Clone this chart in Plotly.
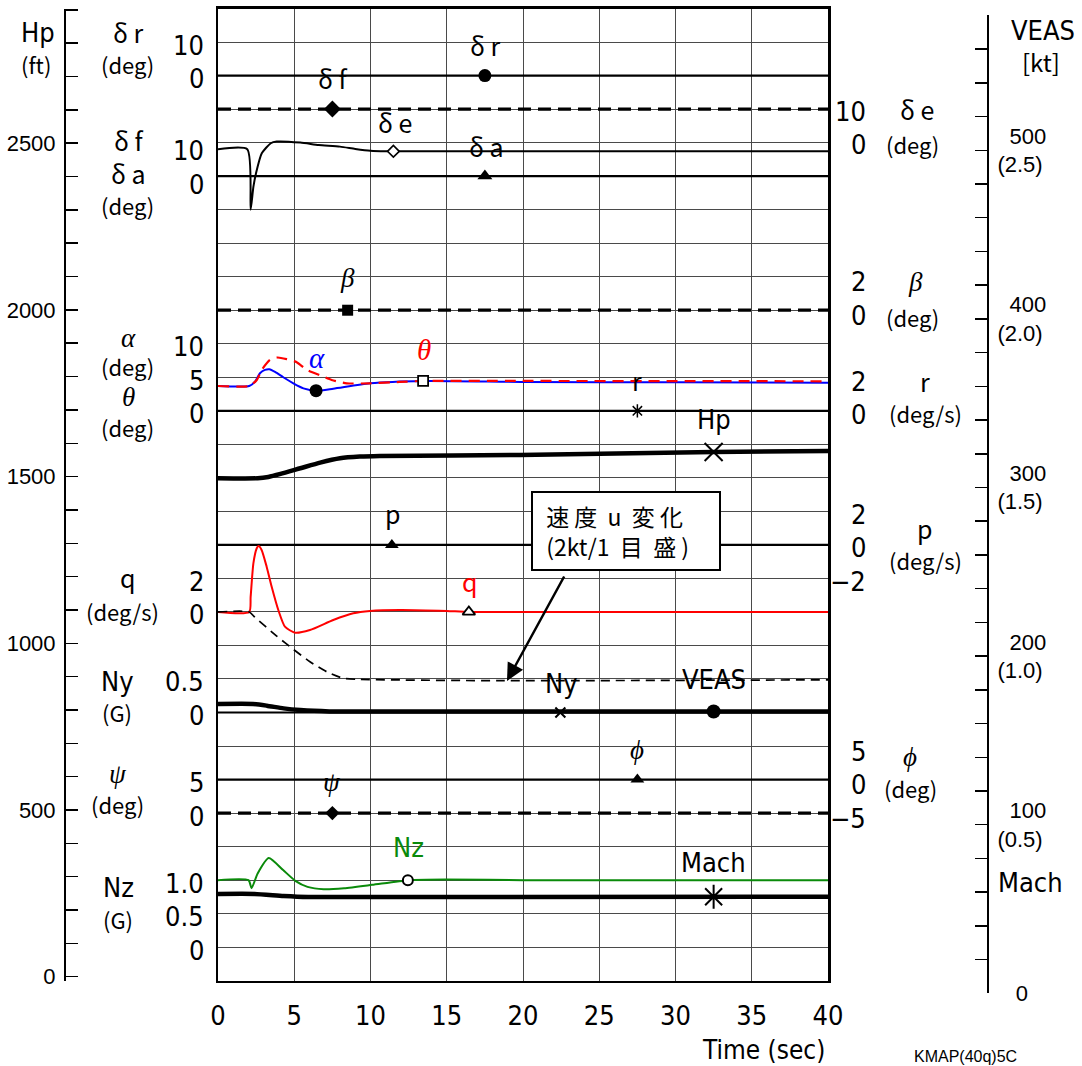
import numpy as np
import plotly.graph_objects as go

# ======================= DATA =======================
TIME_TICKS = [0, 5, 10, 15, 20, 25, 30, 35, 40]

# rudder / flap / aileron / elevator (deg)
DR_T, DR = [0, 40], [0, 0]
DF_T, DF = [0, 40], [20, 20]
DA_T, DA = [0, 40], [0, 0]
DE_T = [0, 1.92, 2.14, 2.32, 2.49, 2.87, 3.46, 3.85, 5.4, 6.6, 8.0, 9.0, 10.0, 11.0, 12.0, 20.0, 40.0]
DE = [-2.0, -2.0, -20.0, -13.2, -9.2, -3.2, -0.2, 0.3, 0.0, -0.7, -1.2, -1.9, -2.45, -2.6, -2.6, -2.55, -2.55]
# sideslip (deg)
BETA_T, BETA = [0, 40], [0, 0]
# angle of attack / pitch (deg)
ALPHA_T = [0, 2.05, 2.43, 2.75, 3.08, 3.37, 3.74, 4.28, 4.94, 5.6, 6.43, 7.56, 9.97, 13.46, 20, 30, 40]
ALPHA = [3.7, 3.7, 4.35, 5.6, 6.1, 6.2, 5.8, 5.0, 4.1, 3.35, 3.0, 3.3, 4.1, 4.45, 4.3, 4.25, 4.2]
THETA_T = [0, 2.05, 2.54, 2.87, 3.41, 3.9, 4.5, 5.16, 5.82, 6.8, 7.45, 8.44, 9.97, 11.93, 13.46, 20, 40]
THETA = [3.7, 3.7, 4.6, 6.1, 7.6, 7.95, 7.7, 7.25, 6.1, 5.2, 4.6, 4.1, 4.1, 4.3, 4.45, 4.45, 4.4]
# yaw rate (deg/s)
R_T, R = [0, 40], [0, 0]
# pressure altitude (ft)
HP_T = [0, 2.6, 3.3, 4.1, 5.4, 6.7, 8.0, 9.3, 10.6, 19.8, 32.5, 40]
HP = [1495, 1495, 1499, 1508, 1525, 1542, 1555, 1560, 1562, 1565, 1574, 1577]
# roll rate / pitch rate (deg/s)
P_T, P = [0, 40], [0, 0]
Q_T = [0, 2.05, 2.14, 2.32, 2.54, 2.65, 2.86, 3.19, 3.52, 3.96, 4.39, 5.05, 6.03, 7.56, 8.87, 9.97, 11.93, 15.0, 16.5, 40]
Q = [0, 0, 0.9, 2.9, 3.8, 3.93, 3.7, 2.7, 1.5, 0.1, -0.88, -1.24, -1.08, -0.48, -0.08, 0.06, 0.12, 0.06, 0.0, 0.0]
# speed change u (kt)
U_T = [0, 2.05, 2.42, 3.85, 4.94, 6.03, 7.13, 8.22, 9.1, 18.5, 40]
U = [0, 0, -0.32, -1.44, -2.23, -2.97, -3.57, -3.96, -4.02, -4.1, -4.05]
# lateral load factor (G)
NY_T, NY = [0, 40], [0, 0]
# equivalent airspeed (kt)
VEAS_T = [0, 2.3, 3.2, 4.3, 5.4, 7.3, 10, 40]
VEAS = [171.6, 171.6, 170.6, 169.0, 168.0, 167.2, 167.1, 167.1]
# bank / heading (deg)
PHI_T, PHI = [0, 40], [0, 0]
PSI_T, PSI = [0, 40], [0, 0]
# normal load factor (G)
NZ_T = [0, 2.0, 2.2, 2.6, 3.33, 4.27, 5.07, 5.87, 6.93, 8.27, 10.1, 12.5, 14.9, 20, 40]
NZ = [1.0, 1.0, 0.88, 1.1, 1.33, 1.15, 0.99, 0.90, 0.865, 0.88, 0.93, 1.0, 1.01, 1.0, 1.0]
# Mach
MACH_T = [0, 2.4, 4.3, 5.9, 40]
MACH = [0.2945, 0.2945, 0.2885, 0.2855, 0.2865]

# scale tick labels
DR_TICKS, DR_LBL = [0, 10], ["0", "10"]
DFA_TICKS, DFA_LBL = [0, 10], ["0", "10"]
ALTH_TICKS, ALTH_LBL = [0, 5, 10], ["0", "5", "10"]
Q_TICKS, Q_LBL = [0, 2], ["0", "2"]
NY_TICKS, NY_LBL = [0, 0.5], ["0", "0.5"]
PSI_TICKS, PSI_LBL = [0, 5], ["0", "5"]
NZ_TICKS, NZ_LBL = [0, 0.5, 1.0], ["0", "0.5", "1.0"]
DE_TICKS, DE_LBL = [0, 10], ["0", "10"]
BETA_TICKS, BETA_LBL = [0, 2], ["0", "2"]
R_TICKS, R_LBL = [0, 2], ["0", "2"]
P_TICKS, P_LBL = [-2, 0, 2], ["−2", "0", "2"]
PHI_TICKS, PHI_LBL = [-5, 0, 5], ["−5", "0", "5"]
VEAS_TICKS = [0, 100, 200, 300, 400, 500]
VEAS_LBL = ["0", "100", "200", "300", "400", "500"]
MACH_LBL = ["", "(0.5)", "(1.0)", "(1.5)", "(2.0)", "(2.5)"]

# ======================= LAYOUT HELPERS =======================
W, H = 1082, 1066
X0, X1 = 218, 828          # plot frame, px
YB, YT = 980.7, 8.5
F_NUM = "Liberation Sans Narrow, DejaVu Sans Condensed, Noto Sans CJK JP, sans-serif"
F_JP = "Noto Sans CJK JP"
F_SANS = "Liberation Sans, Arial, sans-serif"
F_GR = "Liberation Serif, DejaVu Serif, serif"
GRID = "#4a4a4a"

# channel: (zero level in grid units, grid units per physical unit)
CH = {"dr": (2700, 10), "dfa": (2400, 10), "de": (2500, 10), "beta": (2000, 50),
      "alth": (1700, 20), "r": (1700, 50), "p": (1300, 50), "q": (1100, 50), "u": (1100, 50),
      "ny": (800, 200), "phi": (600, 20), "psi": (500, 20), "nz": (100, 200)}


def units(vals, ch):
    z, k = CH[ch]
    return [z + k * v for v in vals]


fig = go.Figure()


def line(t, y, color="black", width=2.2, dash="solid", xa="x", ya="y"):
    fig.add_trace(go.Scatter(x=t, y=y, mode="lines", xaxis=xa, yaxis=ya,
                             line=dict(color=color, width=width, dash=dash,
                                       shape="spline", smoothing=0.6),
                             hoverinfo="skip", showlegend=False))


def mark(tm, t, y, symbol, size, fill="black", lw=0, xa="x", ya="y"):
    yv = float(np.interp(tm, t, y))
    fig.add_trace(go.Scatter(x=[tm], y=[yv], mode="markers", xaxis=xa, yaxis=ya,
                             marker=dict(symbol=symbol, size=size, color=fill,
                                         line=dict(color="black", width=lw)),
                             hoverinfo="skip", showlegend=False))


DASH_THICK = "13px,7px"

line(DR_T, units(DR, "dr"))
line(DF_T, units(DF, "dfa"), width=3.2, dash=DASH_THICK)
line(DE_T, units(DE, "de"), width=2)
line(DA_T, units(DA, "dfa"))
line(BETA_T, units(BETA, "beta"), width=3.2, dash=DASH_THICK)
line(R_T, units(R, "r"))
line(ALPHA_T, units(ALPHA, "alth"), color="#0000ff", width=2)
line(THETA_T, units(THETA, "alth"), color="#ff0000", width=2.2, dash="11px,7px")
line(HP_T, HP, width=4.5, ya="y2")
line(P_T, units(P, "p"))
line(Q_T, units(Q, "q"), color="#ff0000", width=2)
line(U_T, units(U, "u"), width=1.7, dash="9px,6px")
line(NY_T, units(NY, "ny"))
line(VEAS_T, VEAS, width=4.5, xa="x3", ya="y3")
line(PHI_T, units(PHI, "phi"))
line(PSI_T, units(PSI, "psi"), width=3.2, dash=DASH_THICK)
line(NZ_T, units(NZ, "nz"), color="#0a8a0a", width=2)
line(MACH_T, [m * 200 for m in MACH], width=4.5, xa="x3", ya="y3")

mark(17.5, DR_T, units(DR, "dr"), "circle", 13)
mark(7.5, DF_T, units(DF, "dfa"), "diamond", 13)
mark(11.5, DE_T, units(DE, "de"), "diamond", 9, fill="white", lw=1.6)
mark(17.5, DA_T, units(DA, "dfa"), "triangle-up", 13)
mark(8.5, BETA_T, units(BETA, "beta"), "square", 11)
mark(6.43, ALPHA_T, units(ALPHA, "alth"), "circle", 13)
mark(13.45, THETA_T, units(THETA, "alth"), "square", 10, fill="white", lw=1.8)
mark(27.5, R_T, units(R, "r"), "asterisk-open", 11, lw=1.5)
mark(32.5, HP_T, HP, "x-thin-open", 18, lw=2, ya="y2")
mark(11.4, P_T, units(P, "p"), "triangle-up", 12)
mark(16.45, Q_T, units(Q, "q"), "triangle-up", 11, fill="white", lw=1.8)
mark(22.45, NY_T, units(NY, "ny"), "x-thin-open", 10, lw=2)
mark(32.5, VEAS_T, VEAS, "circle", 14, xa="x3", ya="y3")
mark(27.5, PHI_T, units(PHI, "phi"), "triangle-up", 12)
mark(7.5, PSI_T, units(PSI, "psi"), "diamond", 11)
mark(12.45, NZ_T, units(NZ, "nz"), "circle", 10, fill="white", lw=2)
mark(32.5, MACH_T, [m * 200 for m in MACH], "asterisk-open", 20, lw=2, xa="x3", ya="y3")

# ======================= ANNOTATIONS =======================
ann = []


def ptxt(text, x, y, size=22, family=F_JP, color="black", xanchor="center"):
    ann.append(dict(text=text, x=x / W, y=1 - y / H, xref="paper", yref="paper",
                    showarrow=False, xanchor=xanchor, yanchor="middle",
                    font=dict(size=size, family=family, color=color)))


def dtxt(text, t, u, size=25, family=F_JP, color="black"):
    ann.append(dict(text=text, x=t, y=u, xref="x", yref="y", showarrow=False,
                    xanchor="center", yanchor="middle",
                    font=dict(size=size, family=family, color=color)))


def scale(vals, lbls, ch, xpx, shift=-3):
    z, k = CH[ch]
    for v, s in zip(vals, lbls):
        ann.append(dict(text=s, x=xpx / W, y=z + k * v, xref="paper", yref="y",
                        showarrow=False, xanchor="right", yanchor="middle", yshift=shift,
                        font=dict(size=27, family=F_NUM, color="black")))


# left side names
ptxt("Hp", 38, 33, 27, F_NUM)
ptxt("(ft)", 36, 64)
ptxt("δ r", 128, 32, 25)
ptxt("(deg)", 127, 64)
ptxt("δ f", 128, 140, 25)
ptxt("δ a", 128, 173, 25)
ptxt("(deg)", 127, 205)
ptxt("<i>α</i>", 128, 338, 27, F_GR)
ptxt("(deg)", 127, 366)
ptxt("<i>θ</i>", 128, 397, 27, F_GR)
ptxt("(deg)", 127, 427)
ptxt("q", 128, 577, 25)
ptxt("(deg/s)", 122, 611)
ptxt("Ny", 117, 681, 27, F_NUM)
ptxt("(G)", 117, 712)
ptxt("<i>ψ</i>", 118, 774, 27, F_GR)
ptxt("(deg)", 117, 804)
ptxt("Nz", 118, 887, 27, F_NUM)
ptxt("(G)", 118, 919)

# left scale numbers
scale(DR_TICKS, DR_LBL, "dr", 206)
scale(DFA_TICKS, DFA_LBL, "dfa", 206, shift=-8)
scale(ALTH_TICKS, ALTH_LBL, "alth", 206)
scale(Q_TICKS, Q_LBL, "q", 206)
scale(NY_TICKS, NY_LBL, "ny", 206)
scale(PSI_TICKS, PSI_LBL, "psi", 206)
scale(NZ_TICKS, NZ_LBL, "nz", 206)

# right scale numbers
scale(DE_TICKS, DE_LBL, "de", 868, shift=-2)
scale(BETA_TICKS, BETA_LBL, "beta", 868, shift=-5)
scale(R_TICKS, R_LBL, "r", 868, shift=-4)
scale(P_TICKS, P_LBL, "p", 868, shift=-3)
scale(PHI_TICKS, PHI_LBL, "phi", 868, shift=-5)

# right side names
ptxt("δ e", 917, 109, 25)
ptxt("(deg)", 912, 144)
ptxt("<i>β</i>", 915, 282, 27, F_GR)
ptxt("(deg)", 912, 317)
ptxt("r", 925, 381, 25)
ptxt("(deg/s)", 925, 413)
ptxt("p", 925, 528, 25)
ptxt("(deg/s)", 925, 560)
ptxt("<i>ϕ</i>", 910, 757, 27, F_GR)
ptxt("(deg)", 910, 788)
ptxt("VEAS", 1043, 30, 27, F_NUM)
ptxt("[kt]", 1041, 62, 24)
ptxt("Mach", 1030, 882, 27, F_NUM)

# in-plot labels
dtxt("δ r", 17.5, 2791)
dtxt("δ f", 7.5, 2693)
dtxt("δ e", 11.6, 2561)
dtxt("δ a", 17.6, 2490)
dtxt("<i>β</i>", 8.5, 2096, 27, F_GR)
dtxt("<i>α</i>", 6.5, 1857, 29, F_GR, "#0000ff")
dtxt("<i>θ</i>", 13.5, 1881, 29, F_GR, "#ff0000")
dtxt("r", 27.5, 1791)
dtxt("Hp", 32.5, 1673, 27, F_NUM)
dtxt("p", 11.5, 1395)
dtxt("q", 16.5, 1192, 25, F_JP, "#ff0000")
dtxt("Ny", 22.5, 888, 27, F_NUM)
dtxt("VEAS", 32.5, 897, 27, F_NUM)
dtxt("<i>ϕ</i>", 27.5, 688, 27, F_GR)
dtxt("<i>ψ</i>", 7.5, 592, 27, F_GR)
dtxt("Nz", 12.5, 396, 27, F_NUM, "#0a8a0a")
dtxt("Mach", 32.5, 354, 27, F_NUM)

# speed-change note box and arrow
NB = "\u00a0"
ann.append(dict(text=(NB + "速" + NB + "度" + NB * 2 + "u" + NB * 2 + "変" + NB + "化<br>"
                      + NB + "(2kt/1" + NB * 2 + "目" + NB * 2 + "盛" + NB + ")"),
                x=625.5 / W, y=1 - 531 / H,
                xref="paper", yref="paper", showarrow=False, xanchor="center",
                yanchor="middle", align="left", width=170, height=60, borderpad=8,
                bordercolor="black", borderwidth=2, bgcolor="white",
                font=dict(size=23, family=F_JP, color="black")))
ann.append(dict(text="", x=18.95, y=894, xref="x", yref="y", showarrow=True,
                ax=58, ay=-106, arrowhead=2, arrowsize=1.4, arrowwidth=2.5,
                arrowcolor="black", standoff=0))

# bottom texts
ptxt("Time (sec)", 763, 1050, 26, F_NUM)
ptxt("KMAP(40q)5C", 965, 1056, 16, F_SANS)

# ======================= AXES =======================
XD = [X0 / W, X1 / W]
fig.update_layout(
    width=W, height=H, margin=dict(l=0, r=0, t=0, b=0),
    paper_bgcolor="white", plot_bgcolor="rgba(0,0,0,0)", showlegend=False,
    font=dict(family=F_NUM, size=24, color="black"),
    annotations=ann,
    xaxis=dict(domain=XD, range=[0, 40], tickmode="array", tickvals=TIME_TICKS,
               ticktext=[str(v) for v in TIME_TICKS],
               showgrid=True, gridcolor=GRID, gridwidth=1, zeroline=False,
               showline=True, linecolor="black", linewidth=2.5, mirror=True,
               ticks="", tickfont=dict(family=F_NUM, size=27, color="black"),
               ticklabelstandoff=9, automargin=False, fixedrange=True),
    yaxis=dict(domain=[(H - YB) / H, (H - YT) / H], range=[0, 2900], tick0=0, dtick=100,
               showgrid=True, gridcolor=GRID, gridwidth=1, showticklabels=False,
               ticks="", zeroline=False, showline=True, mirror=True,
               linecolor="black", linewidth=2.5, automargin=False, fixedrange=True),
    yaxis2=dict(overlaying="y", anchor="free", position=65 / W, side="left",
                range=[-12, 2904], tickmode="linear", tick0=0, dtick=500,
                ticks="inside", ticklen=12, tickwidth=1.5, tickcolor="black",
                minor=dict(tick0=0, dtick=100, ticks="inside", ticklen=12,
                           tickwidth=1.5, tickcolor="black", showgrid=False),
                showline=True, linecolor="black", linewidth=2, showgrid=False,
                zeroline=False, tickfont=dict(family=F_SANS, size=22, color="black"),
                ticklabelstandoff=4, automargin=False, fixedrange=True),
    xaxis3=dict(domain=XD, range=[0, 40], visible=False, anchor="y3", fixedrange=True),
    yaxis3=dict(domain=[(H - 993.3) / H, (H - 15) / H], range=[0, 580.25],
                anchor="free", position=988 / W, side="right",
                tickmode="array", tickvals=VEAS_TICKS,
                ticktext=[(NB * 2 + a + "<br>" + b) if b else NB * 3 + a
                          for a, b in zip(VEAS_LBL, MACH_LBL)],
                ticks="inside", ticklen=12, tickwidth=1.5, tickcolor="black",
                minor=dict(tick0=0, dtick=20, ticks="inside", ticklen=12,
                           tickwidth=1.5, tickcolor="black", showgrid=False),
                showline=True, linecolor="black", linewidth=2, showgrid=False,
                zeroline=False, tickfont=dict(family=F_SANS, size=22, color="black"),
                ticklabelstandoff=4, automargin=False, fixedrange=True),
)

fig.write_html("out.html", config={"staticPlot": True},
               post_script="document.body.style.margin='0';document.body.style.overflow='hidden';")
